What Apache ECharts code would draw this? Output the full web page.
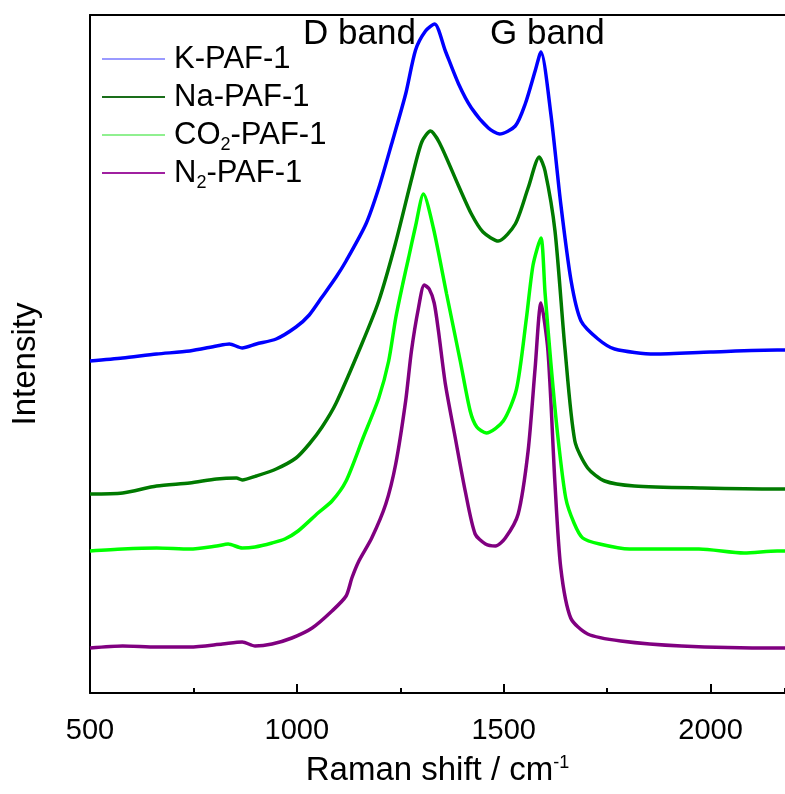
<!DOCTYPE html>
<html>
<head>
<meta charset="utf-8">
<script src="https://cdn.jsdelivr.net/npm/echarts@6/dist/echarts.min.js"></script>
<style>
  html, body { margin: 0; padding: 0; background: #fff; }
  #chart { width: 785px; height: 794px; }
</style>
</head>
<body>
<div id="chart"></div>
<script>
// Raman spectra, [wavenumber, intensity (a.u., offset)]
var kPAF = [[500,332],[579,335],[661,339],[741,342],[806,347],[837,349],[868,345],[902,349],[950,354],[998,366],[1030,378],[1061,396],[1095,416],[1119,432],[1167,469],[1198,505],[1229,549],[1263,599],[1287,643],[1311,662],[1333,669],[1359,642],[1391,609],[1422,585],[1463,565],[1490,559],[1528,567],[1552,589],[1576,622],[1590,641],[1614,579],[1638,489],[1663,412],[1687,372],[1728,354],[1768,344],[1865,339],[2000,341],[2161,343],[2180,343]];
var naPAF = [[500,199],[579,200],[661,207],[741,210],[806,214],[854,215],[868,213],[902,217],[950,224],[998,235],[1030,249],[1061,266],[1095,290],[1157,349],[1198,392],[1238,449],[1278,515],[1302,551],[1323,562],[1345,550],[1390,508],[1422,479],[1450,461],[1487,452],[1528,469],[1559,505],[1586,536],[1600,522],[1624,462],[1648,345],[1672,252],[1703,225],[1744,212],[1816,207],[1979,205],[2161,204],[2180,204]];
var co2PAF = [[500,142],[579,144],[661,145],[741,144],[806,147],[834,149],[868,145],[899,146],[940,150],[971,154],[1003,162],[1051,180],[1085,192],[1119,212],[1160,255],[1198,295],[1222,332],[1239,375],[1256,409],[1270,435],[1287,467],[1306,499],[1330,465],[1362,399],[1395,332],[1419,282],[1435,266],[1458,260],[1499,272],[1531,304],[1555,375],[1571,428],[1590,455],[1600,400],[1614,330],[1630,260],[1650,195],[1670,170],[1691,155],[1732,149],[1804,144],[1972,144],[2081,140],[2161,142],[2180,142]];
var n2PAF = [[500,45],[579,47],[661,46],[741,46],[820,49],[868,51],[899,47],[940,49],[988,55],[1037,65],[1085,82],[1119,97],[1133,115],[1150,132],[1181,155],[1215,189],[1239,229],[1263,292],[1277,342],[1294,385],[1308,408],[1320,404],[1332,390],[1342,363],[1359,309],[1383,255],[1407,202],[1431,159],[1456,149],[1480,147],[1504,155],[1535,179],[1559,242],[1576,325],[1590,390],[1607,342],[1624,209],[1638,125],[1662,75],[1703,59],[1783,52],[1930,47],[2161,45],[2180,45]];

var names = ['K-PAF-1', 'Na-PAF-1', 'CO2-PAF-1', 'N2-PAF-1'];
var lineColors = ['#0000ff', '#007a00', '#00ff00', '#800080'];
var legendColors = ['#9a9aff', '#1a6e1a', '#90f090', '#a020a0'];
var xTicks = [500, 1000, 1500, 2000];

var font = 'Liberation Sans, Arial, sans-serif';
var chart = echarts.init(document.getElementById('chart'));

var seriesData = [kPAF, naPAF, co2PAF, n2PAF];

var option = {
    backgroundColor: '#fff',
    animation: false,
    grid: { left: 90, right: 0, top: 15, bottom: 101 },
    legend: {
        orient: 'vertical',
        left: 102,
        top: 40,
        padding: 0,
        itemGap: 0,
        itemWidth: 63,
        itemHeight: 2,
        icon: 'rect',
        data: names.map(function (n, i) {
            return { name: n, itemStyle: { color: legendColors[i] } };
        }),
        formatter: function (n) {
            return n.replace(/^(CO|N)2/, '$1{sub|2}');
        },
        textStyle: {
            fontFamily: font,
            fontSize: 31,
            lineHeight: 38,
            color: '#000',
            padding: [0, 0, 0, 4],
            rich: {
                sub: { fontFamily: font, fontSize: 18, lineHeight: 18, verticalAlign: 'bottom', color: '#000' }
            }
        }
    },
    xAxis: [{
        type: 'value',
        position: 'bottom',
        min: 500,
        max: 2180,
        interval: 500,
        name: 'Raman shift / cm{sup|-1}',
        nameLocation: 'middle',
        nameGap: 61,
        nameTextStyle: {
            fontFamily: font,
            fontSize: 33,
            color: '#000',
            rich: {
                sup: { fontFamily: font, fontSize: 18, lineHeight: 18, verticalAlign: 'top', color: '#000' }
            }
        },
        axisLine: { lineStyle: { color: '#000', width: 2 } },
        axisTick: { inside: true, length: 9, lineStyle: { color: '#000', width: 2 } },
        axisLabel: {
            fontFamily: font, fontSize: 29, color: '#000', margin: 23,
            showMaxLabel: false,
            formatter: function (v) { return xTicks.indexOf(v) >= 0 ? String(v) : ''; }
        },
        splitLine: { show: false }
    }, {
        type: 'value',
        position: 'top',
        min: 500,
        max: 2180,
        axisLine: { lineStyle: { color: '#000', width: 2 } },
        axisTick: { show: false },
        axisLabel: { show: false },
        splitLine: { show: false }
    }, {
        // minor ticks every 250
        type: 'value',
        position: 'bottom',
        min: 500,
        max: 2180,
        interval: 250,
        axisLine: { show: false },
        axisTick: { inside: true, length: 5, lineStyle: { color: '#000', width: 2 } },
        axisLabel: { show: false },
        splitLine: { show: false }
    }],
    yAxis: {
        type: 'value',
        min: 0,
        max: 678,
        name: 'Intensity',
        nameLocation: 'middle',
        nameGap: 48,
        nameRotate: 90,
        nameTextStyle: { fontFamily: font, fontSize: 33, color: '#000', padding: [0, 20, 0, 0] },
        axisLine: { show: true, lineStyle: { color: '#000', width: 2 } },
        axisTick: { show: false },
        axisLabel: { show: false },
        splitLine: { show: false }
    },
    graphic: [
        { type: 'text', left: 303, top: 17, style: { text: 'D band', font: '35px Liberation Sans', fill: '#000' } },
        { type: 'text', left: 490, top: 17, style: { text: 'G band', font: '35px Liberation Sans', fill: '#000' } }
    ],
    series: seriesData.map(function (d, i) {
        return {
            name: names[i],
            type: 'line',
            xAxisIndex: 0,
            data: d,
            showSymbol: false,
            smooth: 0.25,
            color: lineColors[i],
            lineStyle: { color: lineColors[i], width: 3.5 },
            z: 10 - i
        };
    })
};

chart.setOption(option);
</script>
</body>
</html>
